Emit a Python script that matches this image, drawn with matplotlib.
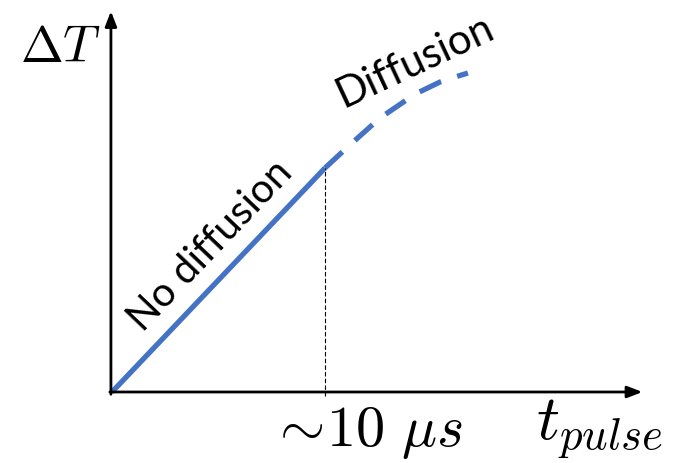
import matplotlib.pyplot as plt

plt.rcParams['mathtext.fontset'] = 'cm'

# heating regimes: temperature rise vs pulse length (arbitrary units, 10 us -> 1.0)
t_nodiff = [0, 10]
dT_nodiff = [0, 1.0]

t_diff = [10, 11.17, 12.58, 14.23, 15.4, 16.1, 16.71]
dT_diff = [1.0, 1.103, 1.223, 1.330, 1.384, 1.406, 1.424]

t_mark = 10
blue = '#4472C4'

fig = plt.figure(figsize=(6.79, 4.63), dpi=100)
ax = fig.add_axes([0, 0, 1, 1])
ax.set_xlim(-5.258, 26.62)
ax.set_ylim(-0.317, 1.75)
ax.axis('off')

# axes with arrow heads
arrow = dict(arrowstyle='-|>,head_length=0.9,head_width=0.35', color='black',
             lw=2, shrinkA=0, shrinkB=0)
ax.annotate('', xy=(24.9, 0), xytext=(-0.1, 0), arrowprops=arrow)
ax.annotate('', xy=(-0.05, 1.70), xytext=(-0.05, -0.01), arrowprops=arrow)

# curves
ax.plot(t_nodiff, dT_nodiff, color=blue, lw=3.8, solid_capstyle='butt')
ax.plot(t_diff, dT_diff, color=blue, lw=3.8, dashes=(4.5, 3.2),
        dash_capstyle='butt')
ax.plot([t_mark, t_mark], [-0.02, dT_nodiff[1]], color='black', lw=0.8,
        ls=(0, (4, 2)))

# labels
ax.text(-2.4, 1.535, r'$\Delta T$', fontsize=37, ha='center', va='center')
ax.text(11.95, -0.18, r'$\sim\!10\ \mu s$', fontsize=42, ha='center', va='center')
ax.text(22.9, -0.17, r'$t_{pulse}$', fontsize=46, ha='center', va='center')
ax.text(4.62, 0.655, 'No diffusion', fontsize=29, family='Lato',
        rotation=46.4, rotation_mode='anchor', ha='center', va='center')
ax.text(14.2, 1.475, 'Diffusion', fontsize=30, family='Lato',
        rotation=25, rotation_mode='anchor', ha='center', va='center')

fig.savefig('out.png', dpi=100)
